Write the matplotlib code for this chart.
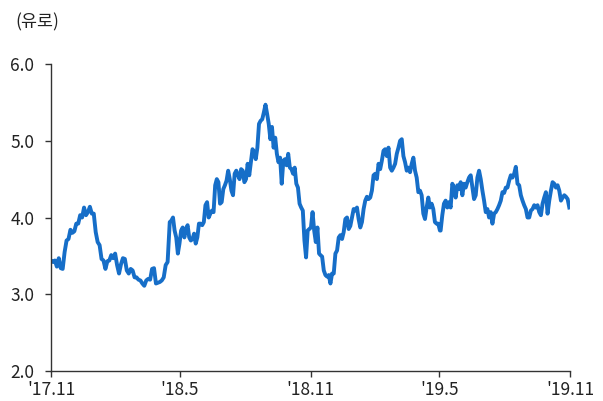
import numpy as np
import pandas as pd
import matplotlib
matplotlib.use('Agg')
import matplotlib.pyplot as plt
import matplotlib.dates as mdates

plt.rcParams['font.family'] = ['Noto Sans CJK KR', 'DejaVu Sans']

# values, in four stretches (start date, end date, values)
seg1_dates = ('2017-11-01', '2018-04-14')
seg1 = [3.44, 3.42, 3.44, 3.36, 3.47, 3.34, 3.33, 3.55, 3.70, 3.72, 3.84, 3.80, 3.82,
        3.92, 3.92, 4.03, 4.00, 4.13, 4.03, 4.07, 4.14, 4.05, 4.05, 3.81, 3.68, 3.64,
        3.46, 3.44, 3.33, 3.43, 3.44, 3.51, 3.47, 3.53, 3.38, 3.27, 3.39, 3.47, 3.46,
        3.31, 3.27, 3.33, 3.31, 3.22, 3.22, 3.19, 3.18, 3.14, 3.11, 3.18, 3.20, 3.19,
        3.33, 3.34, 3.14, 3.15, 3.16, 3.18, 3.22, 3.38, 3.42]

seg2_dates = ('2018-04-17', '2018-11-13')
seg2 = [3.94, 3.96, 4.00, 3.83, 3.74, 3.53, 3.66, 3.83, 3.87, 3.74, 3.85, 3.90, 3.74,
        3.70, 3.72, 3.79, 3.66, 3.74, 3.92, 3.92, 3.90, 3.94, 4.16, 4.20, 4.00, 4.05,
        4.09, 4.07, 4.42, 4.50, 4.46, 4.18, 4.20, 4.37, 4.42, 4.48, 4.61, 4.50, 4.35,
        4.29, 4.57, 4.61, 4.55, 4.50, 4.63, 4.61, 4.46, 4.50, 4.70, 4.55, 4.72, 4.89,
        4.85, 4.76, 4.91, 5.22, 5.26, 5.28, 5.37, 5.47, 5.35, 5.22, 5.02, 5.18, 4.91,
        5.04, 4.83, 4.72, 4.78, 4.44, 4.74, 4.76, 4.68, 4.83, 4.65, 4.63, 4.57, 4.65,
        4.44, 4.39, 4.18, 4.13, 4.09, 3.70, 3.48, 3.83, 3.85, 3.87, 4.07, 3.83, 3.68,
        3.87, 3.53]

seg3_dates = ('2018-11-15', '2019-05-02')
seg3 = [3.51, 3.49, 3.31, 3.25, 3.23, 3.25, 3.14, 3.27, 3.27, 3.53, 3.57, 3.74, 3.77,
        3.72, 3.81, 3.98, 4.00, 3.85, 3.89, 4.00, 4.11, 4.09, 4.13, 3.98, 3.87, 3.94,
        4.11, 4.22, 4.27, 4.24, 4.26, 4.35, 4.55, 4.57, 4.50, 4.70, 4.63, 4.74, 4.87,
        4.89, 4.80, 4.91, 4.65, 4.61, 4.65, 4.70, 4.83, 4.91, 5.00, 5.02, 4.80, 4.72,
        4.61, 4.65, 4.59, 4.70, 4.78, 4.61, 4.52, 4.33, 4.35, 4.29, 4.05, 3.98, 4.13,
        4.26, 4.13, 4.18, 4.11, 3.94, 3.92, 3.92, 3.83]

seg4_dates = ('2019-05-03', '2019-10-31')
seg4 = [3.83, 4.03, 4.18, 4.22, 4.13, 4.20, 4.13, 4.44, 4.39, 4.26, 4.42, 4.37, 4.46,
        4.29, 4.44, 4.39, 4.46, 4.52, 4.55, 4.39, 4.24, 4.29, 4.52, 4.61, 4.50, 4.35,
        4.22, 4.07, 4.11, 4.00, 4.07, 3.92, 4.05, 4.07, 4.11, 4.16, 4.22, 4.33, 4.32,
        4.39, 4.39, 4.48, 4.55, 4.52, 4.57, 4.66, 4.44, 4.42, 4.29, 4.22, 4.16, 4.11,
        4.00, 4.00, 4.09, 4.11, 4.16, 4.13, 4.16, 4.07, 4.03, 4.18, 4.26, 4.33, 4.05,
        4.22, 4.35, 4.46, 4.44, 4.39, 4.42, 4.35, 4.22, 4.26, 4.29, 4.27, 4.24, 4.13]

tick_dates = ['2017-11-01', '2018-05-01', '2018-11-01', '2019-05-01', '2019-11-01']
tick_labels = ["'17.11", "'18.5", "'18.11", "'19.5", "'19.11"]
y_ticks = [2.0, 3.0, 4.0, 5.0, 6.0]

dates = []
values = []
for (start, end), seg in [(seg1_dates, seg1), (seg2_dates, seg2),
                          (seg3_dates, seg3), (seg4_dates, seg4)]:
    dates.extend(pd.date_range(start, end, periods=len(seg)))
    values.extend(seg)

fig = plt.figure(figsize=(6.03, 4.01), dpi=100)
ax = fig.add_axes([0.0846, 0.0748, 0.8607, 0.7656])

ax.plot(dates, values, color='#166ec8', linewidth=2.8, solid_joinstyle='round')

ax.set_xlim(pd.Timestamp(tick_dates[0]), pd.Timestamp(tick_dates[-1]))
ax.set_ylim(2.0, 6.0)
ax.set_xticks(pd.to_datetime(tick_dates))
ax.set_xticklabels(tick_labels)
ax.set_yticks(y_ticks)
ax.set_yticklabels(['%.1f' % v for v in y_ticks])

for s in ['top', 'right']:
    ax.spines[s].set_visible(False)
for s in ['left', 'bottom']:
    ax.spines[s].set_color('#333333')
    ax.spines[s].set_linewidth(1.0)

ax.tick_params(axis='both', direction='out', length=4, width=1, color='#333333',
               labelsize=12.5, labelcolor='#222222')
ax.tick_params(axis='y', pad=8)
ax.tick_params(axis='x', pad=3.5)

fig.text(0.025, 0.945, '(유로)', fontsize=12.5, color='#222222', va='center', ha='left')

fig.savefig('out.png', dpi=100)
